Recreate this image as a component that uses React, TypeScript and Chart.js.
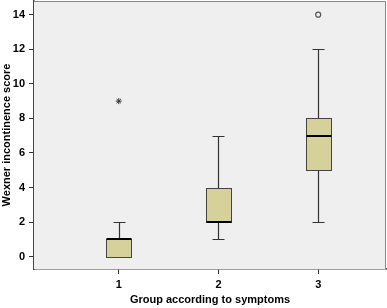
import React, { useEffect, useRef } from "react";
import { Chart, registerables } from "chart.js";

Chart.register(...registerables);

const groups = [1, 2, 3];
const whiskerLow = [0, 1, 2];
const q1 = [0, 2, 5];
const median = [1, 2, 7];
const q3 = [1, 4, 8];
const whiskerHigh = [2, 7, 12];
const extremes = [{ x: 1, y: 9 }];
const outliers = [{ x: 3, y: 14 }];
const yTicks = [0, 2, 4, 6, 8, 10, 12, 14];

const FONT = "'Liberation Sans', Arial, sans-serif";

const boxPlugin = {
  id: "boxPlugin",
  beforeDatasetsDraw(chart: any) {
    const { ctx, chartArea, scales } = chart;
    const xs = scales.x;
    const ys = scales.y;
    ctx.save();
    ctx.fillStyle = "#efefef";
    ctx.fillRect(chartArea.left, chartArea.top, chartArea.right - chartArea.left, chartArea.bottom - chartArea.top);
    ctx.strokeStyle = "#888888";
    ctx.lineWidth = 1;
    ctx.beginPath();
    ctx.moveTo(chartArea.left, chartArea.top + 0.5);
    ctx.lineTo(chartArea.right - 0.5, chartArea.top + 0.5);
    ctx.lineTo(chartArea.right - 0.5, chartArea.bottom);
    ctx.stroke();

    const boxHalf = 0.125;
    const capHalf = 0.06;
    groups.forEach((g, i) => {
      const xc = Math.round(xs.getPixelForValue(g)) + 0.5;
      const xl = Math.round(xs.getPixelForValue(g - boxHalf)) + 0.5;
      const xr = Math.round(xs.getPixelForValue(g + boxHalf)) + 0.5;
      const cl = Math.round(xs.getPixelForValue(g - capHalf)) + 0.5;
      const cr = Math.round(xs.getPixelForValue(g + capHalf)) + 0.5;
      const yLo = Math.round(ys.getPixelForValue(whiskerLow[i])) + 0.5;
      const yHi = Math.round(ys.getPixelForValue(whiskerHigh[i])) + 0.5;
      const yQ1 = Math.round(ys.getPixelForValue(q1[i])) + 0.5;
      const yQ3 = Math.round(ys.getPixelForValue(q3[i])) + 0.5;
      const yMed = Math.round(ys.getPixelForValue(median[i]));

      ctx.strokeStyle = "#333333";
      ctx.lineWidth = 1.2;
      ctx.beginPath();
      if (whiskerHigh[i] > q3[i]) {
        ctx.moveTo(xc, yQ3);
        ctx.lineTo(xc, yHi);
        ctx.moveTo(cl, yHi);
        ctx.lineTo(cr, yHi);
      }
      if (whiskerLow[i] < q1[i]) {
        ctx.moveTo(xc, yQ1);
        ctx.lineTo(xc, yLo);
        ctx.moveTo(cl, yLo);
        ctx.lineTo(cr, yLo);
      }
      ctx.stroke();
      ctx.fillStyle = "#d6d09a";
      ctx.fillRect(xl, yQ3, xr - xl, yQ1 - yQ3);
      ctx.strokeStyle = "#444444";
      ctx.lineWidth = 1;
      ctx.strokeRect(xl, yQ3, xr - xl, yQ1 - yQ3);
      ctx.strokeStyle = "#000000";
      ctx.lineWidth = 2;
      ctx.beginPath();
      ctx.moveTo(xl, yMed);
      ctx.lineTo(xr, yMed);
      ctx.stroke();
    });
    ctx.restore();
  },
};

export default function App() {
  const ref = useRef<HTMLCanvasElement | null>(null);
  useEffect(() => {
    if (!ref.current) return;
    const chart = new Chart(ref.current, {
      type: "scatter",
      data: {
        datasets: [
          {
            label: "extreme",
            data: extremes,
            pointStyle: "star",
            radius: 3,
            borderColor: "#333333",
            backgroundColor: "#333333",
            borderWidth: 1,
          },
          {
            label: "outlier",
            data: outliers,
            pointStyle: "circle",
            radius: 2.5,
            borderColor: "#555555",
            backgroundColor: "rgba(0,0,0,0)",
            borderWidth: 1.2,
          },
        ],
      },
      options: {
        animation: false,
        responsive: false,
        maintainAspectRatio: false,
        layout: { autoPadding: false, padding: { top: 1, right: 1, left: 0, bottom: 0 } },
        plugins: {
          legend: { display: false },
          tooltip: { enabled: false },
        },
        scales: {
          x: {
            type: "linear",
            min: 0.15,
            max: 3.68,
            afterBuildTicks: (scale: any) => {
              scale.ticks = groups.map((v) => ({ value: v }));
            },
            afterFit: (scale: any) => {
              scale.height = 39;
              scale.paddingLeft = 0;
              scale.paddingRight = 0;
            },
            ticks: {
              color: "#000",
              font: { family: FONT, size: 11, weight: "bold" },
              padding: 4,
              maxRotation: 0,
              callback: (v: any) => String(v),
            },
            grid: {
              drawOnChartArea: false,
              drawTicks: true,
              tickLength: 5,
              color: "#333333",
            },
            border: { display: true, color: "#444444", width: 1.5 },
            title: {
              display: true,
              text: "Group according to symptoms",
              color: "#000",
              font: { family: FONT, size: 11, weight: "bold" },
              padding: { top: 0, bottom: 1 },
            },
          },
          y: {
            min: -0.71,
            max: 14.79,
            afterBuildTicks: (scale: any) => {
              scale.ticks = yTicks.map((v) => ({ value: v }));
            },
            afterFit: (scale: any) => {
              scale.width = 34;
              scale.paddingTop = 0;
              scale.paddingBottom = 0;
            },
            ticks: {
              color: "#000",
              font: { family: FONT, size: 11, weight: "bold" },
              padding: 4,
              callback: (v: any) => String(v),
            },
            grid: {
              drawOnChartArea: false,
              drawTicks: true,
              tickLength: 5,
              color: "#333333",
            },
            border: { display: true, color: "#444444", width: 1.5 },
            title: {
              display: true,
              text: "Wexner incontinence score",
              color: "#000",
              font: { family: FONT, size: 11, weight: "bold" },
              padding: { top: 0, bottom: 0 },
            },
          },
        },
      },
      plugins: [boxPlugin],
    } as any);
    return () => chart.destroy();
  }, []);
  return (
    <div style={{ position: "fixed", left: 0, top: 0, width: 387, height: 308, background: "#fff" }}>
      <canvas ref={ref} width={387} height={308} style={{ display: "block", width: 387, height: 308 }} />
    </div>
  );
}
